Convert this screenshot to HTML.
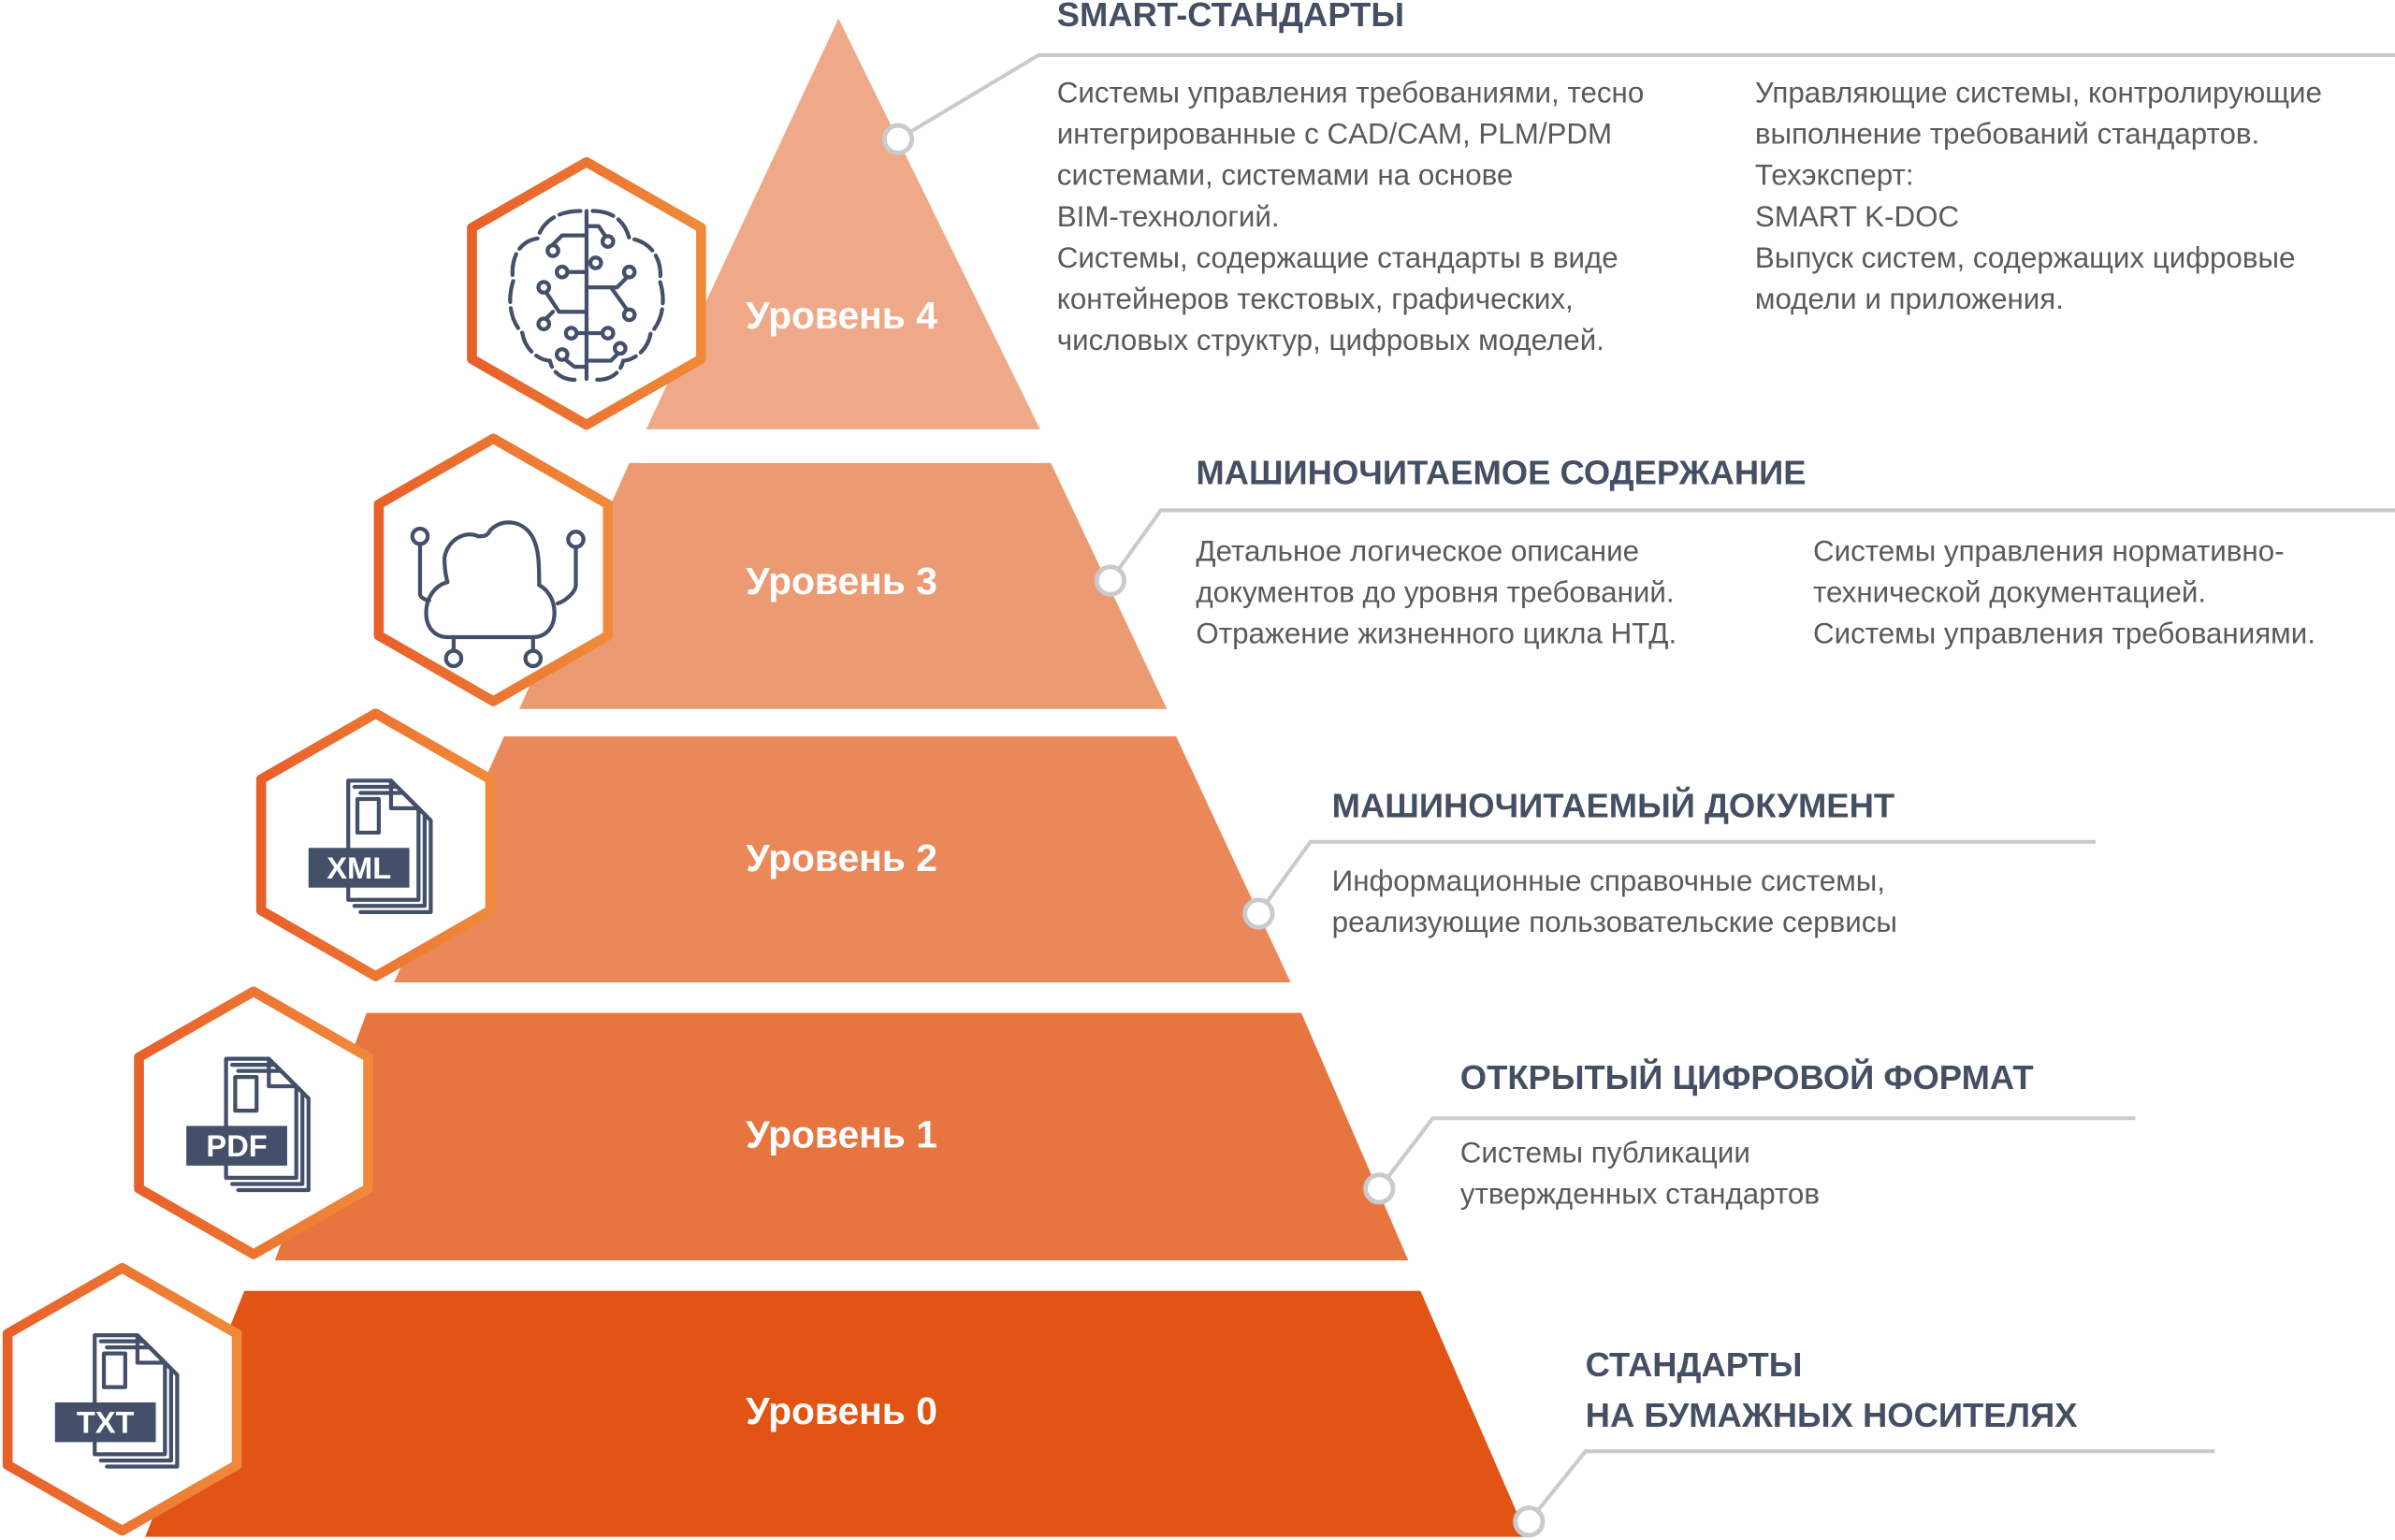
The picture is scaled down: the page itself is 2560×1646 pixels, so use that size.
<!DOCTYPE html>
<html><head><meta charset="utf-8"><style>
html,body{margin:0;padding:0;background:#fff;width:2560px;height:1646px;overflow:hidden}
svg{display:block}
.t{font-family:"Liberation Sans",sans-serif;font-weight:bold;font-size:22.3px;fill:#454f63}
.b{font-family:"Liberation Sans",sans-serif;font-size:19.2px;fill:#5a5a5a}
.lv{font-family:"Liberation Sans",sans-serif;font-weight:bold;font-size:25px;fill:#fff;text-anchor:middle}
.ic{fill:none;stroke:#44506a;stroke-width:2.6;stroke-linecap:round;stroke-linejoin:round}
.cn{fill:none;stroke:#c8cacc;stroke-width:2.5}
.ci{fill:#fff;stroke:#c8cacc;stroke-width:3}
.lab{font-family:"Liberation Sans",sans-serif;font-weight:bold;font-size:20px;fill:#fff;text-anchor:middle}
</style></head><body>
<svg width="2560" height="1646" viewBox="0 0 1568 1008" xmlns="http://www.w3.org/2000/svg">
<defs>
<linearGradient id="hg" x1="0" y1="0" x2="1" y2="0">
<stop offset="0" stop-color="#e8602a"/><stop offset="1" stop-color="#f08a3a"/></linearGradient>
<g id="hex"><path d="M0,-86 L75,-43 L75,43 L0,86 L-75,43 L-75,-43 Z" fill="#fff" stroke="url(#hg)" stroke-width="6.5" stroke-linejoin="round"/></g>
<g id="doc">
<path class="ic" d="M-14,-42 H14 L32,-24 V36 H-14 Z" fill="#fff"/>
<path class="ic" d="M-10,-38 H18 L36,-20 V40 H-10" />
<path class="ic" d="M-6,-34 H22 L40,-16 V44 H-6" />
<path class="ic" d="M14,-42 V-24 H32"/>
<rect class="ic" x="-8" y="-30" width="14" height="22"/>
</g>
</defs>
<!-- pyramid -->
<polygon points="549,12 681,281 423,281" fill="#f0a988"/>
<polygon points="412,303 688,303 764,464 340,464" fill="#ec9a72"/>
<polygon points="330,482 770,482 845,643 258,643" fill="#ea8859"/>
<polygon points="240,663 852,663 922,825 180,825" fill="#e77540"/>
<polygon points="160,845 930,845 1000,1006 95,1006" fill="#e25413"/>
<text class="lv" x="551" y="215">Уровень 4</text>
<text class="lv" x="551" y="389">Уровень 3</text>
<text class="lv" x="551" y="570">Уровень 2</text>
<text class="lv" x="551" y="751">Уровень 1</text>
<text class="lv" x="551" y="932">Уровень 0</text>
<!-- hexes -->
<use href="#hex" x="384" y="192"/>
<use href="#hex" x="323" y="373"/>
<use href="#hex" x="246" y="553"/>
<use href="#hex" x="166" y="735"/>
<use href="#hex" x="80" y="916"/>
<!-- brain -->
<g transform="translate(384,192)">
<path class="ic" d="M0,-54 V56" />
<path class="ic" d="M-4,-54 C-22,-54 -30,-44 -32,-36 C-46,-34 -50,-20 -48,-8 C-52,4 -50,18 -42,26 C-40,38 -30,44 -24,44 C-22,54 -12,58 -4,56" stroke-dasharray="14 4"/>
<path class="ic" d="M4,-54 C20,-54 26,-44 28,-36 C44,-34 50,-20 48,-8 C52,4 50,18 42,26 C40,38 30,44 24,44 C22,54 12,58 4,56" stroke-dasharray="14 4"/>
<circle class="ic" cx="-22" cy="-28" r="3.5"/><path class="ic" d="M-22,-32 L-16,-38 H0"/>
<circle class="ic" cx="-16" cy="-14" r="3.5"/><path class="ic" d="M-12,-14 H0"/>
<circle class="ic" cx="-28" cy="-4" r="3.5"/><path class="ic" d="M-26,0 L-18,12 H0"/>
<circle class="ic" cx="-28" cy="20" r="3.5"/><path class="ic" d="M-26,16 L-22,12"/>
<circle class="ic" cx="-10" cy="26" r="3.5"/><path class="ic" d="M-6,26 H0"/>
<circle class="ic" cx="-16" cy="40" r="3.5"/><path class="ic" d="M-13,44 L-8,48 H0"/>
<circle class="ic" cx="14" cy="-34" r="3.5"/><path class="ic" d="M12,-38 L8,-44 H0"/>
<circle class="ic" cx="6" cy="-20" r="3.5"/>
<circle class="ic" cx="28" cy="-14" r="3.5"/><path class="ic" d="M26,-10 L20,-4 H0"/>
<circle class="ic" cx="28" cy="14" r="3.5"/><path class="ic" d="M26,10 L16,-4"/>
<circle class="ic" cx="14" cy="26" r="3.5"/><path class="ic" d="M10,26 H0"/>
<circle class="ic" cx="22" cy="36" r="3.5"/><path class="ic" d="M20,40 L16,44 H0"/>
</g>
<!-- cloud -->
<g transform="translate(323,373)">
<path class="ic" d="M-18,44 H26 C34,44 40,38 40,28 C40,18 34,12 30,10 C30,-4 30,-16 24,-24 C18,-32 6,-34 -2,-26 C-4,-22 -6,-22 -10,-22 C-18,-26 -30,-20 -32,-8 C-32,0 -31,4 -30,8 C-38,10 -44,18 -44,28 C-44,38 -38,44 -30,44 Z"/>
<path class="ic" d="M-48,-16 V16 C-48,18 -44,20 -42,20"/>
<circle class="ic" cx="-48" cy="-22" r="5"/>
<path class="ic" d="M54,-14 V10 C54,14 48,20 42,22"/>
<circle class="ic" cx="54" cy="-20" r="5"/>
<path class="ic" d="M-26,44 V52"/><circle class="ic" cx="-26" cy="58" r="5"/>
<path class="ic" d="M26,44 V52"/><circle class="ic" cx="26" cy="58" r="5"/>
</g>
<!-- docs -->
<g transform="translate(242,553)"><use href="#doc"/><rect x="-40" y="2" width="66" height="26" fill="#44506a"/><text class="lab" x="-7" y="22">XML</text></g>
<g transform="translate(162,735)"><use href="#doc"/><rect x="-40" y="2" width="66" height="26" fill="#44506a"/><text class="lab" x="-7" y="22">PDF</text></g>
<g transform="translate(76,916)"><use href="#doc"/><rect x="-40" y="2" width="66" height="26" fill="#44506a"/><text class="lab" x="-7" y="22">TXT</text></g>
<!-- connectors -->
<polyline class="cn" points="588,91 680,36 1568,36"/><circle class="ci" cx="588" cy="91" r="9"/>
<polyline class="cn" points="727,380 760,334 1568,334"/><circle class="ci" cx="727" cy="380" r="9"/>
<polyline class="cn" points="824,598 858,551 1372,551"/><circle class="ci" cx="824" cy="598" r="9"/>
<polyline class="cn" points="903,778 938,732 1398,732"/><circle class="ci" cx="903" cy="778" r="9"/>
<polyline class="cn" points="1001,996 1038,950 1450,950"/><circle class="ci" cx="1001" cy="996" r="9"/>
<!-- texts -->
<text class="t" x="692" y="17">SMART-СТАНДАРТЫ</text>
<text class="b" x="692" y="67">Системы управления требованиями, тесно</text>
<text class="b" x="692" y="94">интегрированные с CAD/CAM, PLM/PDM</text>
<text class="b" x="692" y="121">системами, системами на основе</text>
<text class="b" x="692" y="148">BIM-технологий.</text>
<text class="b" x="692" y="175">Системы, содержащие стандарты в виде</text>
<text class="b" x="692" y="202">контейнеров текстовых, графических,</text>
<text class="b" x="692" y="229">числовых структур, цифровых моделей.</text>
<text class="b" x="1149" y="67">Управляющие системы, контролирующие</text>
<text class="b" x="1149" y="94">выполнение требований стандартов.</text>
<text class="b" x="1149" y="121">Техэксперт:</text>
<text class="b" x="1149" y="148">SMART  K-DOC</text>
<text class="b" x="1149" y="175">Выпуск систем, содержащих цифровые</text>
<text class="b" x="1149" y="202">модели и приложения.</text>
<text class="t" x="783" y="317">МАШИНОЧИТАЕМОЕ СОДЕРЖАНИЕ</text>
<text class="b" x="783" y="367">Детальное логическое описание</text>
<text class="b" x="783" y="394">документов до уровня требований.</text>
<text class="b" x="783" y="421">Отражение жизненного цикла НТД.</text>
<text class="b" x="1187" y="367">Системы управления нормативно-</text>
<text class="b" x="1187" y="394">технической документацией.</text>
<text class="b" x="1187" y="421">Системы управления требованиями.</text>
<text class="t" x="872" y="535">МАШИНОЧИТАЕМЫЙ ДОКУМЕНТ</text>
<text class="b" x="872" y="583">Информационные справочные системы,</text>
<text class="b" x="872" y="610">реализующие пользовательские сервисы</text>
<text class="t" x="956" y="713">ОТКРЫТЫЙ ЦИФРОВОЙ ФОРМАТ</text>
<text class="b" x="956" y="761">Системы публикации</text>
<text class="b" x="956" y="788">утвержденных  стандартов</text>
<text class="t" x="1038" y="901">СТАНДАРТЫ</text>
<text class="t" x="1038" y="934">НА БУМАЖНЫХ НОСИТЕЛЯХ</text>
</svg>
</body></html>
